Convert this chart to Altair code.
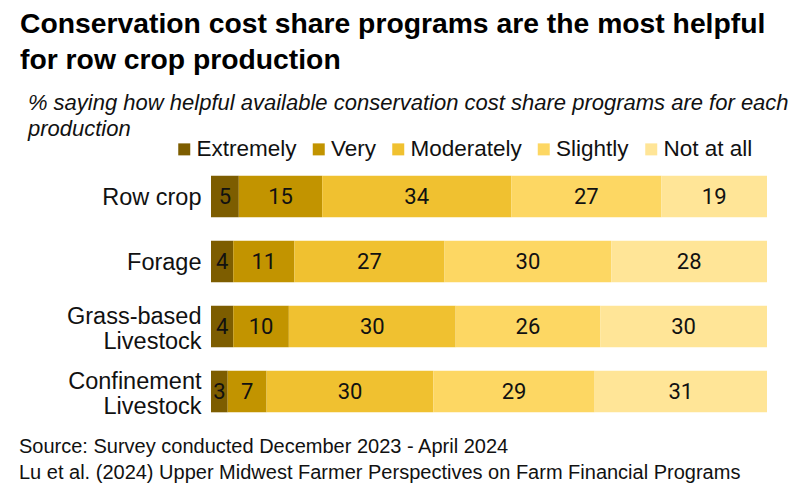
import altair as alt
import pandas as pd

crops = ["Row crop", "Forage", "Grass-based Livestock", "Confinement Livestock"]
levels = ["Extremely", "Very", "Moderately", "Slightly", "Not at all"]
extremely = [5, 4, 4, 3]
very = [15, 11, 10, 7]
moderately = [34, 27, 30, 30]
slightly = [27, 30, 26, 29]
not_at_all = [19, 28, 30, 31]
colors = ["#7d5d00", "#c29400", "#f0c130", "#fdd763", "#ffe597"]

title_lines = ["Conservation cost share programs are the most helpful",
               "for row crop production"]
subtitle_lines = ["\u200b\u00a0\u200a% saying how helpful available conservation cost share programs are for each",
                  "\u200b\u00a0\u200aproduction"]
source_lines = ["Source: Survey conducted December 2023 - April 2024",
                "Lu et al. (2024) Upper Midwest Farmer Perspectives on Farm Financial Programs"]

series = [extremely, very, moderately, slightly, not_at_all]
rows = []
for li, (lvl, vals) in enumerate(zip(levels, series)):
    for c, v in zip(crops, vals):
        rows.append({"crop": c, "level": lvl, "order": li, "value": v})
df = pd.DataFrame(rows)

FONT = "Liberation Sans"

base = alt.Chart(df).transform_stack(
    stack="value", groupby=["crop"], as_=["x0", "x1"], sort=[alt.SortField("order")]
).transform_calculate(mid="(datum.x0 + datum.x1) / 2")

yenc = alt.Y("crop:N", sort=crops, title=None,
             scale=alt.Scale(paddingInner=0.36, paddingOuter=0.18),
             axis=alt.Axis(domain=False, ticks=False, labelFont=FONT, labelFontSize=23.5,
                           labelColor="#111", labelPadding=10, labelLineHeight=25,
                           labelOffset={"condition": {"test": "test(/Livestock/, datum.label)", "value": -10},
                                        "value": 1},
                           labelExpr="test(/Livestock/, datum.label) ? split(datum.label, ' ') : datum.label"))

xscale = alt.Scale(domain=[0, 100], nice=False)

bars = base.mark_bar().encode(
    x=alt.X("x0:Q", scale=xscale, axis=None),
    x2="x1:Q",
    y=yenc,
    color=alt.Color("level:N", sort=levels,
                    scale=alt.Scale(domain=levels, range=colors),
                    legend=alt.Legend(orient="none", direction="horizontal", title=None,
                                      legendX=-38, legendY=-26, symbolType="square",
                                      symbolSize=144, symbolStrokeWidth=0, symbolOpacity=1,
                                      labelFont=FONT, labelFontSize=22.5, labelColor="#111",
                                      labelOffset=1, columnPadding=10.5)),
)

labels = base.mark_text(font="Roboto", fontSize=22, color="#111").encode(
    x=alt.X("mid:Q", axis=None, scale=xscale),
    y=alt.Y("crop:N", sort=crops),
    text="value:Q",
)

source = alt.Chart(pd.DataFrame({"k": [0]})).mark_text(
    text=source_lines, font=FONT, fontSize=20, color="#111", align="left",
    baseline="top", lineHeight=26
).encode(x=alt.value(-192), y=alt.value(273))

chart = alt.layer(bars, labels, source).properties(
    width=556, height=260,
    autosize=alt.AutoSizeParams(type="none"),
    padding={"left": 203, "top": 156, "right": 25, "bottom": 68},
    title=alt.Title(text=title_lines, subtitle=subtitle_lines, anchor="start", frame="group",
                    dx=-191, dy=3, font=FONT, fontSize=28.3, fontWeight="bold", color="#000",
                    lineHeight=36, subtitleFont=FONT, subtitleFontSize=22,
                    subtitleFontStyle="italic", subtitleColor="#111",
                    subtitleLineHeight=26, subtitlePadding=18, offset=0),
).configure_view(stroke=None)

chart.save("out.html", embed_options={"renderer": "svg", "actions": False})
